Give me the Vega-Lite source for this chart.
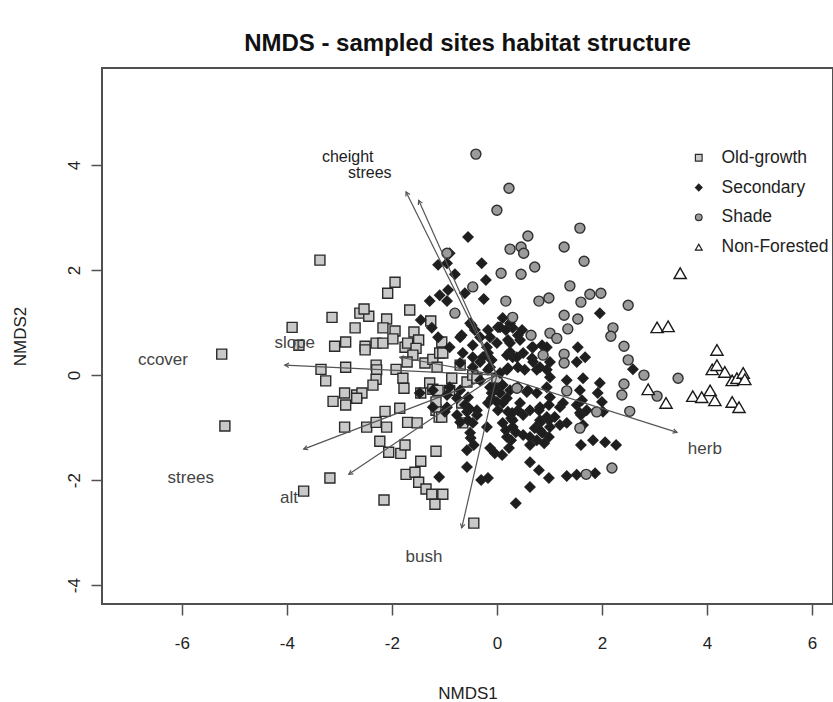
{
"$schema":"https://vega.github.io/schema/vega-lite/v6.json",
"width":731,"height":536,
"autosize":"none",
"padding":{"left":102,"top":68,"right":0,"bottom":98},
"background":"white",
"config":{"view":{"stroke":"#505050","strokeWidth":2},"font":"Liberation Sans",
 "legend":{"orient":"none","legendX":588,"legendY":81,"labelFontSize":17.5,"labelColor":"#222222","symbolSize":45,"symbolStrokeWidth":1.2,"rowPadding":10.8,"labelOffset":14,"padding":0,"titlePadding":0}},
"title":{"text":"NMDS - sampled sites habitat structure","fontSize":24,"fontWeight":"bold","font":"Liberation Sans","color":"#111111","anchor":"middle","offset":12},
"datasets":{
"sites":[
{"habitat":"Old-growth","NMDS1":-3.37,"NMDS2":2.19},{"habitat":"Old-growth","NMDS1":-1.94,"NMDS2":1.77},{"habitat":"Old-growth","NMDS1":-2.08,"NMDS2":1.56},{"habitat":"Old-growth","NMDS1":-1.66,"NMDS2":1.24},{"habitat":"Old-growth","NMDS1":-3.14,"NMDS2":1.10},{"habitat":"Old-growth","NMDS1":-2.61,"NMDS2":1.18},{"habitat":"Old-growth","NMDS1":-2.44,"NMDS2":1.12},{"habitat":"Old-growth","NMDS1":-2.53,"NMDS2":1.26},{"habitat":"Old-growth","NMDS1":-3.90,"NMDS2":0.91},{"habitat":"Old-growth","NMDS1":-2.70,"NMDS2":0.90},{"habitat":"Old-growth","NMDS1":-2.10,"NMDS2":1.07},{"habitat":"Old-growth","NMDS1":-2.17,"NMDS2":0.90},{"habitat":"Old-growth","NMDS1":-1.94,"NMDS2":0.84},{"habitat":"Old-growth","NMDS1":-1.58,"NMDS2":0.82},{"habitat":"Old-growth","NMDS1":-1.26,"NMDS2":1.03},{"habitat":"Old-growth","NMDS1":-3.09,"NMDS2":0.55},{"habitat":"Old-growth","NMDS1":-2.88,"NMDS2":0.63},{"habitat":"Old-growth","NMDS1":-2.51,"NMDS2":0.55},{"habitat":"Old-growth","NMDS1":-2.51,"NMDS2":0.48},{"habitat":"Old-growth","NMDS1":-2.30,"NMDS2":0.61},{"habitat":"Old-growth","NMDS1":-2.17,"NMDS2":0.61},{"habitat":"Old-growth","NMDS1":-1.98,"NMDS2":0.69},{"habitat":"Old-growth","NMDS1":-1.75,"NMDS2":0.53},{"habitat":"Old-growth","NMDS1":-1.70,"NMDS2":0.61},{"habitat":"Old-growth","NMDS1":-1.49,"NMDS2":0.67},{"habitat":"Old-growth","NMDS1":-1.54,"NMDS2":0.51},{"habitat":"Old-growth","NMDS1":-1.60,"NMDS2":0.38},{"habitat":"Old-growth","NMDS1":-1.71,"NMDS2":0.25},{"habitat":"Old-growth","NMDS1":-1.37,"NMDS2":0.23},{"habitat":"Old-growth","NMDS1":-1.22,"NMDS2":0.30},{"habitat":"Old-growth","NMDS1":-1.09,"NMDS2":0.42},{"habitat":"Old-growth","NMDS1":-1.14,"NMDS2":0.15},{"habitat":"Old-growth","NMDS1":-5.24,"NMDS2":0.40},{"habitat":"Old-growth","NMDS1":-3.77,"NMDS2":0.57},{"habitat":"Old-growth","NMDS1":-3.35,"NMDS2":0.11},{"habitat":"Old-growth","NMDS1":-2.88,"NMDS2":0.15},{"habitat":"Old-growth","NMDS1":-2.30,"NMDS2":0.19},{"habitat":"Old-growth","NMDS1":-2.29,"NMDS2":0.10},{"habitat":"Old-growth","NMDS1":-1.92,"NMDS2":0.11},{"habitat":"Old-growth","NMDS1":-3.26,"NMDS2":-0.11},{"habitat":"Old-growth","NMDS1":-2.30,"NMDS2":-0.08},{"habitat":"Old-growth","NMDS1":-2.36,"NMDS2":-0.19},{"habitat":"Old-growth","NMDS1":-1.79,"NMDS2":-0.06},{"habitat":"Old-growth","NMDS1":-1.77,"NMDS2":-0.25},{"habitat":"Old-growth","NMDS1":-1.28,"NMDS2":-0.15},{"habitat":"Old-growth","NMDS1":-1.22,"NMDS2":-0.27},{"habitat":"Old-growth","NMDS1":-1.12,"NMDS2":-0.29},{"habitat":"Old-growth","NMDS1":-1.45,"NMDS2":-0.34},{"habitat":"Old-growth","NMDS1":-2.90,"NMDS2":-0.34},{"habitat":"Old-growth","NMDS1":-2.67,"NMDS2":-0.38},{"habitat":"Old-growth","NMDS1":-2.57,"NMDS2":-0.34},{"habitat":"Old-growth","NMDS1":-3.12,"NMDS2":-0.50},{"habitat":"Old-growth","NMDS1":-2.88,"NMDS2":-0.57},{"habitat":"Old-growth","NMDS1":-2.67,"NMDS2":-0.44},{"habitat":"Old-growth","NMDS1":-2.13,"NMDS2":-0.69},{"habitat":"Old-growth","NMDS1":-1.85,"NMDS2":-0.63},{"habitat":"Old-growth","NMDS1":-1.16,"NMDS2":-0.67},{"habitat":"Old-growth","NMDS1":-1.10,"NMDS2":-0.80},{"habitat":"Old-growth","NMDS1":-1.70,"NMDS2":-0.90},{"habitat":"Old-growth","NMDS1":-1.52,"NMDS2":-0.91},{"habitat":"Old-growth","NMDS1":-2.90,"NMDS2":-0.99},{"habitat":"Old-growth","NMDS1":-2.48,"NMDS2":-0.99},{"habitat":"Old-growth","NMDS1":-2.30,"NMDS2":-0.90},{"habitat":"Old-growth","NMDS1":-2.10,"NMDS2":-0.99},{"habitat":"Old-growth","NMDS1":-0.65,"NMDS2":-0.91},{"habitat":"Old-growth","NMDS1":-5.18,"NMDS2":-0.97},{"habitat":"Old-growth","NMDS1":-0.70,"NMDS2":0.19},{"habitat":"Old-growth","NMDS1":-0.57,"NMDS2":-0.13},{"habitat":"Old-growth","NMDS1":-2.23,"NMDS2":-1.26},{"habitat":"Old-growth","NMDS1":-2.06,"NMDS2":-1.47},{"habitat":"Old-growth","NMDS1":-1.83,"NMDS2":-1.49},{"habitat":"Old-growth","NMDS1":-1.75,"NMDS2":-1.33},{"habitat":"Old-growth","NMDS1":-1.16,"NMDS2":-1.45},{"habitat":"Old-growth","NMDS1":-1.45,"NMDS2":-1.64},{"habitat":"Old-growth","NMDS1":-1.73,"NMDS2":-1.89},{"habitat":"Old-growth","NMDS1":-1.56,"NMDS2":-1.85},{"habitat":"Old-growth","NMDS1":-1.49,"NMDS2":-2.04},{"habitat":"Old-growth","NMDS1":-1.35,"NMDS2":-2.17},{"habitat":"Old-growth","NMDS1":-1.24,"NMDS2":-2.27},{"habitat":"Old-growth","NMDS1":-1.03,"NMDS2":-2.27},{"habitat":"Old-growth","NMDS1":-1.18,"NMDS2":-2.46},{"habitat":"Old-growth","NMDS1":-3.18,"NMDS2":-1.96},{"habitat":"Old-growth","NMDS1":-3.68,"NMDS2":-2.21},{"habitat":"Old-growth","NMDS1":-2.15,"NMDS2":-2.38},{"habitat":"Old-growth","NMDS1":-0.44,"NMDS2":-2.82},{"habitat":"Old-growth","NMDS1":-1.05,"NMDS2":0.63},{"habitat":"Old-growth","NMDS1":-1.03,"NMDS2":0.42},{"habitat":"Old-growth","NMDS1":-0.46,"NMDS2":0.00},{"habitat":"Old-growth","NMDS1":-0.38,"NMDS2":-0.06},{"habitat":"Old-growth","NMDS1":0.00,"NMDS2":-0.06},{"habitat":"Old-growth","NMDS1":-0.86,"NMDS2":-0.06},{"habitat":"Old-growth","NMDS1":-0.90,"NMDS2":-0.29},{"habitat":"Old-growth","NMDS1":-0.67,"NMDS2":-0.53},{"habitat":"Old-growth","NMDS1":-1.05,"NMDS2":-0.80},{"habitat":"Old-growth","NMDS1":-1.16,"NMDS2":-0.51},
{"habitat":"Secondary","NMDS1":-1.12,"NMDS2":2.10},{"habitat":"Secondary","NMDS1":-0.95,"NMDS2":2.13},{"habitat":"Secondary","NMDS1":-0.29,"NMDS2":2.13},{"habitat":"Secondary","NMDS1":-0.21,"NMDS2":1.81},{"habitat":"Secondary","NMDS1":-0.25,"NMDS2":1.45},{"habitat":"Secondary","NMDS1":-1.28,"NMDS2":1.41},{"habitat":"Secondary","NMDS1":-1.09,"NMDS2":1.52},{"habitat":"Secondary","NMDS1":-0.93,"NMDS2":1.62},{"habitat":"Secondary","NMDS1":-0.61,"NMDS2":1.56},{"habitat":"Secondary","NMDS1":-0.95,"NMDS2":1.41},{"habitat":"Secondary","NMDS1":-1.45,"NMDS2":1.05},{"habitat":"Secondary","NMDS1":-1.24,"NMDS2":0.90},{"habitat":"Secondary","NMDS1":-1.12,"NMDS2":0.72},{"habitat":"Secondary","NMDS1":-0.90,"NMDS2":0.53},{"habitat":"Secondary","NMDS1":-0.70,"NMDS2":0.72},{"habitat":"Secondary","NMDS1":-0.51,"NMDS2":0.99},{"habitat":"Secondary","NMDS1":-0.42,"NMDS2":0.86},{"habitat":"Secondary","NMDS1":-0.17,"NMDS2":0.86},{"habitat":"Secondary","NMDS1":-0.32,"NMDS2":0.72},{"habitat":"Secondary","NMDS1":-0.65,"NMDS2":0.42},{"habitat":"Secondary","NMDS1":-0.46,"NMDS2":0.34},{"habitat":"Secondary","NMDS1":-0.32,"NMDS2":0.25},{"habitat":"Secondary","NMDS1":-0.17,"NMDS2":0.42},{"habitat":"Secondary","NMDS1":-1.22,"NMDS2":-0.29},{"habitat":"Secondary","NMDS1":-0.90,"NMDS2":-0.23},{"habitat":"Secondary","NMDS1":-0.70,"NMDS2":-0.29},{"habitat":"Secondary","NMDS1":-0.76,"NMDS2":-0.44},{"habitat":"Secondary","NMDS1":-1.22,"NMDS2":-0.61},{"habitat":"Secondary","NMDS1":-0.95,"NMDS2":-0.61},{"habitat":"Secondary","NMDS1":-0.61,"NMDS2":-0.57},{"habitat":"Secondary","NMDS1":-0.57,"NMDS2":-0.70},{"habitat":"Secondary","NMDS1":-0.38,"NMDS2":-0.76},{"habitat":"Secondary","NMDS1":-0.76,"NMDS2":-0.76},{"habitat":"Secondary","NMDS1":-0.46,"NMDS2":-0.91},{"habitat":"Secondary","NMDS1":-0.10,"NMDS2":-0.34},{"habitat":"Secondary","NMDS1":-0.17,"NMDS2":-0.53},{"habitat":"Secondary","NMDS1":-1.47,"NMDS2":-0.34},{"habitat":"Secondary","NMDS1":-0.04,"NMDS2":-0.23},
{"habitat":"Secondary","NMDS1":-0.90,"NMDS2":2.32},{"habitat":"Secondary","NMDS1":1.96,"NMDS2":1.18},{"habitat":"Secondary","NMDS1":0.11,"NMDS2":1.09},{"habitat":"Secondary","NMDS1":0.02,"NMDS2":0.91},{"habitat":"Secondary","NMDS1":0.17,"NMDS2":0.86},{"habitat":"Secondary","NMDS1":0.30,"NMDS2":0.90},{"habitat":"Secondary","NMDS1":0.48,"NMDS2":0.86},{"habitat":"Secondary","NMDS1":-0.13,"NMDS2":0.72},{"habitat":"Secondary","NMDS1":0.00,"NMDS2":0.61},{"habitat":"Secondary","NMDS1":0.21,"NMDS2":0.67},{"habitat":"Secondary","NMDS1":0.44,"NMDS2":0.67},{"habitat":"Secondary","NMDS1":0.67,"NMDS2":0.53},{"habitat":"Secondary","NMDS1":0.86,"NMDS2":0.57},{"habitat":"Secondary","NMDS1":0.95,"NMDS2":0.53},{"habitat":"Secondary","NMDS1":-0.27,"NMDS2":0.34},{"habitat":"Secondary","NMDS1":0.25,"NMDS2":0.44},{"habitat":"Secondary","NMDS1":0.30,"NMDS2":0.34},{"habitat":"Secondary","NMDS1":0.50,"NMDS2":0.42},{"habitat":"Secondary","NMDS1":0.67,"NMDS2":0.32},{"habitat":"Secondary","NMDS1":1.54,"NMDS2":0.53},{"habitat":"Secondary","NMDS1":1.68,"NMDS2":0.34},{"habitat":"Secondary","NMDS1":1.52,"NMDS2":0.25},{"habitat":"Secondary","NMDS1":1.01,"NMDS2":0.25},{"habitat":"Secondary","NMDS1":-0.13,"NMDS2":0.15},{"habitat":"Secondary","NMDS1":0.06,"NMDS2":0.04},{"habitat":"Secondary","NMDS1":0.21,"NMDS2":0.13},{"habitat":"Secondary","NMDS1":0.40,"NMDS2":0.15},{"habitat":"Secondary","NMDS1":0.53,"NMDS2":0.10},{"habitat":"Secondary","NMDS1":0.76,"NMDS2":0.10},{"habitat":"Secondary","NMDS1":0.95,"NMDS2":0.10},{"habitat":"Secondary","NMDS1":1.01,"NMDS2":-0.04},{"habitat":"Secondary","NMDS1":1.33,"NMDS2":-0.10},{"habitat":"Secondary","NMDS1":1.64,"NMDS2":-0.06},{"habitat":"Secondary","NMDS1":1.96,"NMDS2":-0.15},{"habitat":"Secondary","NMDS1":2.59,"NMDS2":0.11},{"habitat":"Secondary","NMDS1":-0.13,"NMDS2":-0.23},{"habitat":"Secondary","NMDS1":0.06,"NMDS2":-0.34},{"habitat":"Secondary","NMDS1":0.25,"NMDS2":-0.29},{"habitat":"Secondary","NMDS1":0.40,"NMDS2":-0.23},{"habitat":"Secondary","NMDS1":0.57,"NMDS2":-0.32},{"habitat":"Secondary","NMDS1":0.76,"NMDS2":-0.34},{"habitat":"Secondary","NMDS1":0.95,"NMDS2":-0.23},{"habitat":"Secondary","NMDS1":1.01,"NMDS2":-0.42},{"habitat":"Secondary","NMDS1":1.58,"NMDS2":-0.29},{"habitat":"Secondary","NMDS1":1.62,"NMDS2":-0.48},{"habitat":"Secondary","NMDS1":1.92,"NMDS2":-0.34},{"habitat":"Secondary","NMDS1":2.00,"NMDS2":-0.51},{"habitat":"Secondary","NMDS1":0.11,"NMDS2":-0.53},{"habitat":"Secondary","NMDS1":0.21,"NMDS2":-0.70},{"habitat":"Secondary","NMDS1":0.44,"NMDS2":-0.53},{"habitat":"Secondary","NMDS1":0.63,"NMDS2":-0.67},{"habitat":"Secondary","NMDS1":0.82,"NMDS2":-0.61},{"habitat":"Secondary","NMDS1":0.95,"NMDS2":-0.80},{"habitat":"Secondary","NMDS1":1.20,"NMDS2":-0.61},{"habitat":"Secondary","NMDS1":1.58,"NMDS2":-0.72},{"habitat":"Secondary","NMDS1":1.71,"NMDS2":-0.67},{"habitat":"Secondary","NMDS1":2.02,"NMDS2":-0.70},{"habitat":"Secondary","NMDS1":0.11,"NMDS2":-0.91},{"habitat":"Secondary","NMDS1":0.30,"NMDS2":-0.86},{"habitat":"Secondary","NMDS1":0.82,"NMDS2":-0.91},{"habitat":"Secondary","NMDS1":1.01,"NMDS2":-0.99},{"habitat":"Secondary","NMDS1":1.33,"NMDS2":-0.91},{"habitat":"Secondary","NMDS1":1.64,"NMDS2":-0.95},
{"habitat":"Secondary","NMDS1":-0.53,"NMDS2":-0.63},{"habitat":"Secondary","NMDS1":-0.70,"NMDS2":-0.90},{"habitat":"Secondary","NMDS1":0.00,"NMDS2":-0.51},{"habitat":"Secondary","NMDS1":0.27,"NMDS2":-0.82},{"habitat":"Secondary","NMDS1":0.40,"NMDS2":-0.67},{"habitat":"Secondary","NMDS1":0.50,"NMDS2":-0.76},{"habitat":"Secondary","NMDS1":0.80,"NMDS2":-0.67},{"habitat":"Secondary","NMDS1":0.99,"NMDS2":-0.57},{"habitat":"Secondary","NMDS1":0.99,"NMDS2":-0.86},{"habitat":"Secondary","NMDS1":1.26,"NMDS2":-0.53},{"habitat":"Secondary","NMDS1":1.20,"NMDS2":-0.95},{"habitat":"Secondary","NMDS1":1.52,"NMDS2":-0.57},{"habitat":"Secondary","NMDS1":1.60,"NMDS2":-0.76},{"habitat":"Secondary","NMDS1":0.17,"NMDS2":-1.05},{"habitat":"Secondary","NMDS1":0.36,"NMDS2":-1.09},{"habitat":"Secondary","NMDS1":0.72,"NMDS2":-1.01},{"habitat":"Secondary","NMDS1":0.63,"NMDS2":-1.18},{"habitat":"Secondary","NMDS1":0.86,"NMDS2":-1.10},{"habitat":"Secondary","NMDS1":0.99,"NMDS2":-1.18},{"habitat":"Secondary","NMDS1":-0.50,"NMDS2":-1.20},{"habitat":"Secondary","NMDS1":-0.44,"NMDS2":-1.33},{"habitat":"Secondary","NMDS1":-0.57,"NMDS2":-1.43},{"habitat":"Secondary","NMDS1":-0.13,"NMDS2":-1.39},{"habitat":"Secondary","NMDS1":-0.04,"NMDS2":-1.49},{"habitat":"Secondary","NMDS1":0.10,"NMDS2":-1.52},{"habitat":"Secondary","NMDS1":0.23,"NMDS2":-1.39},{"habitat":"Secondary","NMDS1":0.27,"NMDS2":-1.24},{"habitat":"Secondary","NMDS1":0.63,"NMDS2":-1.33},{"habitat":"Secondary","NMDS1":0.76,"NMDS2":-1.24},{"habitat":"Secondary","NMDS1":0.90,"NMDS2":-1.30},{"habitat":"Secondary","NMDS1":1.60,"NMDS2":-1.33},{"habitat":"Secondary","NMDS1":1.83,"NMDS2":-1.24},{"habitat":"Secondary","NMDS1":2.06,"NMDS2":-1.28},{"habitat":"Secondary","NMDS1":2.27,"NMDS2":-1.33},{"habitat":"Secondary","NMDS1":-0.57,"NMDS2":-1.75},{"habitat":"Secondary","NMDS1":-0.30,"NMDS2":-2.00},{"habitat":"Secondary","NMDS1":-0.17,"NMDS2":-1.96},{"habitat":"Secondary","NMDS1":0.63,"NMDS2":-1.66},{"habitat":"Secondary","NMDS1":0.80,"NMDS2":-1.81},{"habitat":"Secondary","NMDS1":0.99,"NMDS2":-1.96},{"habitat":"Secondary","NMDS1":0.63,"NMDS2":-2.13},{"habitat":"Secondary","NMDS1":1.33,"NMDS2":-1.92},{"habitat":"Secondary","NMDS1":1.52,"NMDS2":-1.90},{"habitat":"Secondary","NMDS1":1.87,"NMDS2":-1.87},{"habitat":"Secondary","NMDS1":0.36,"NMDS2":-2.44},{"habitat":"Secondary","NMDS1":-1.10,"NMDS2":-1.94},
{"habitat":"Secondary","NMDS1":-0.48,"NMDS2":0.95},{"habitat":"Secondary","NMDS1":-0.67,"NMDS2":0.76},{"habitat":"Secondary","NMDS1":0.06,"NMDS2":0.91},{"habitat":"Secondary","NMDS1":0.25,"NMDS2":0.99},{"habitat":"Secondary","NMDS1":0.40,"NMDS2":0.76},{"habitat":"Secondary","NMDS1":-0.46,"NMDS2":0.57},{"habitat":"Secondary","NMDS1":-0.19,"NMDS2":0.53},{"habitat":"Secondary","NMDS1":0.25,"NMDS2":0.61},{"habitat":"Secondary","NMDS1":0.69,"NMDS2":0.53},{"habitat":"Secondary","NMDS1":-0.10,"NMDS2":0.29},{"habitat":"Secondary","NMDS1":0.19,"NMDS2":0.38},{"habitat":"Secondary","NMDS1":0.38,"NMDS2":0.34},{"habitat":"Secondary","NMDS1":0.69,"NMDS2":0.25},{"habitat":"Secondary","NMDS1":-0.70,"NMDS2":0.23},{"habitat":"Secondary","NMDS1":-0.46,"NMDS2":0.15},{"habitat":"Secondary","NMDS1":-0.17,"NMDS2":0.10},{"habitat":"Secondary","NMDS1":0.19,"NMDS2":0.10},{"habitat":"Secondary","NMDS1":0.82,"NMDS2":0.15},{"habitat":"Secondary","NMDS1":-0.32,"NMDS2":-0.10},{"habitat":"Secondary","NMDS1":0.11,"NMDS2":-0.19},{"habitat":"Secondary","NMDS1":0.59,"NMDS2":-0.29},{"habitat":"Secondary","NMDS1":-0.95,"NMDS2":-0.38},{"habitat":"Secondary","NMDS1":-0.55,"NMDS2":-0.42},{"habitat":"Secondary","NMDS1":-0.10,"NMDS2":-0.44},{"habitat":"Secondary","NMDS1":0.19,"NMDS2":-0.44},{"habitat":"Secondary","NMDS1":-0.99,"NMDS2":-0.70},{"habitat":"Secondary","NMDS1":-0.38,"NMDS2":-0.67},{"habitat":"Secondary","NMDS1":0.02,"NMDS2":-0.67},{"habitat":"Secondary","NMDS1":0.29,"NMDS2":-0.72},{"habitat":"Secondary","NMDS1":0.82,"NMDS2":-0.86},{"habitat":"Secondary","NMDS1":1.10,"NMDS2":-0.80},{"habitat":"Secondary","NMDS1":-0.55,"NMDS2":-0.86},{"habitat":"Secondary","NMDS1":-0.19,"NMDS2":-0.99},{"habitat":"Secondary","NMDS1":0.30,"NMDS2":-0.99},{"habitat":"Secondary","NMDS1":0.82,"NMDS2":-1.05},{"habitat":"Secondary","NMDS1":-0.51,"NMDS2":-1.10},{"habitat":"Secondary","NMDS1":0.50,"NMDS2":-1.14},{"habitat":"Secondary","NMDS1":0.19,"NMDS2":-1.18},{"habitat":"Secondary","NMDS1":-0.55,"NMDS2":2.63},{"habitat":"Secondary","NMDS1":-0.80,"NMDS2":1.92},
{"habitat":"Shade","NMDS1":-0.40,"NMDS2":4.21},{"habitat":"Shade","NMDS1":0.23,"NMDS2":3.56},{"habitat":"Shade","NMDS1":0.00,"NMDS2":3.14},{"habitat":"Shade","NMDS1":0.59,"NMDS2":2.65},{"habitat":"Shade","NMDS1":1.58,"NMDS2":2.80},{"habitat":"Shade","NMDS1":0.25,"NMDS2":2.40},{"habitat":"Shade","NMDS1":0.46,"NMDS2":2.44},{"habitat":"Shade","NMDS1":0.51,"NMDS2":2.32},{"habitat":"Shade","NMDS1":1.28,"NMDS2":2.44},{"habitat":"Shade","NMDS1":1.66,"NMDS2":2.17},{"habitat":"Shade","NMDS1":0.08,"NMDS2":1.94},{"habitat":"Shade","NMDS1":0.46,"NMDS2":1.92},{"habitat":"Shade","NMDS1":0.72,"NMDS2":2.06},{"habitat":"Shade","NMDS1":-0.46,"NMDS2":1.68},{"habitat":"Shade","NMDS1":1.39,"NMDS2":1.70},{"habitat":"Shade","NMDS1":1.77,"NMDS2":1.54},{"habitat":"Shade","NMDS1":1.98,"NMDS2":1.56},{"habitat":"Shade","NMDS1":1.60,"NMDS2":1.39},{"habitat":"Shade","NMDS1":0.80,"NMDS2":1.41},{"habitat":"Shade","NMDS1":0.99,"NMDS2":1.47},{"habitat":"Shade","NMDS1":0.17,"NMDS2":1.41},{"habitat":"Shade","NMDS1":-0.80,"NMDS2":1.18},{"habitat":"Shade","NMDS1":2.50,"NMDS2":1.33},{"habitat":"Shade","NMDS1":0.30,"NMDS2":1.10},{"habitat":"Shade","NMDS1":1.28,"NMDS2":1.14},{"habitat":"Shade","NMDS1":1.54,"NMDS2":1.07},{"habitat":"Shade","NMDS1":1.35,"NMDS2":0.88},{"habitat":"Shade","NMDS1":2.21,"NMDS2":0.90},{"habitat":"Shade","NMDS1":2.17,"NMDS2":0.74},{"habitat":"Shade","NMDS1":0.65,"NMDS2":0.76},{"habitat":"Shade","NMDS1":1.01,"NMDS2":0.80},{"habitat":"Shade","NMDS1":1.14,"NMDS2":0.70},{"habitat":"Shade","NMDS1":2.42,"NMDS2":0.55},{"habitat":"Shade","NMDS1":0.88,"NMDS2":0.38},{"habitat":"Shade","NMDS1":1.28,"NMDS2":0.40},{"habitat":"Shade","NMDS1":1.28,"NMDS2":0.23},{"habitat":"Shade","NMDS1":2.50,"NMDS2":0.29},{"habitat":"Shade","NMDS1":2.80,"NMDS2":0.00},{"habitat":"Shade","NMDS1":3.45,"NMDS2":-0.06},{"habitat":"Shade","NMDS1":2.42,"NMDS2":-0.17},{"habitat":"Shade","NMDS1":2.38,"NMDS2":-0.38},{"habitat":"Shade","NMDS1":3.05,"NMDS2":-0.40},{"habitat":"Shade","NMDS1":1.33,"NMDS2":-0.30},{"habitat":"Shade","NMDS1":1.90,"NMDS2":-0.70},{"habitat":"Shade","NMDS1":2.53,"NMDS2":-0.69},{"habitat":"Shade","NMDS1":0.38,"NMDS2":-0.25},{"habitat":"Shade","NMDS1":1.58,"NMDS2":-1.01},{"habitat":"Shade","NMDS1":-0.95,"NMDS2":2.32},{"habitat":"Shade","NMDS1":1.70,"NMDS2":-1.89},{"habitat":"Shade","NMDS1":2.19,"NMDS2":-1.77},
{"habitat":"Non-Forested","NMDS1":3.49,"NMDS2":1.94},{"habitat":"Non-Forested","NMDS1":3.05,"NMDS2":0.91},{"habitat":"Non-Forested","NMDS1":3.26,"NMDS2":0.93},{"habitat":"Non-Forested","NMDS1":4.19,"NMDS2":0.48},{"habitat":"Non-Forested","NMDS1":4.10,"NMDS2":0.11},{"habitat":"Non-Forested","NMDS1":4.19,"NMDS2":0.19},{"habitat":"Non-Forested","NMDS1":4.34,"NMDS2":0.06},{"habitat":"Non-Forested","NMDS1":4.48,"NMDS2":-0.10},{"habitat":"Non-Forested","NMDS1":4.57,"NMDS2":-0.06},{"habitat":"Non-Forested","NMDS1":4.69,"NMDS2":0.04},{"habitat":"Non-Forested","NMDS1":4.72,"NMDS2":-0.08},{"habitat":"Non-Forested","NMDS1":2.88,"NMDS2":-0.27},{"habitat":"Non-Forested","NMDS1":3.22,"NMDS2":-0.53},{"habitat":"Non-Forested","NMDS1":3.73,"NMDS2":-0.40},{"habitat":"Non-Forested","NMDS1":3.90,"NMDS2":-0.42},{"habitat":"Non-Forested","NMDS1":4.06,"NMDS2":-0.29},{"habitat":"Non-Forested","NMDS1":4.15,"NMDS2":-0.48},{"habitat":"Non-Forested","NMDS1":4.48,"NMDS2":-0.51},{"habitat":"Non-Forested","NMDS1":4.61,"NMDS2":-0.61}
],
"vectors":[
{"variable":"cheight","NMDS1":-1.73,"NMDS2":3.49,"labelX":-2.84,"labelY":4.16},
{"variable":"strees","NMDS1":-1.49,"NMDS2":3.33,"labelX":-2.42,"labelY":3.85},
{"variable":"ccover","NMDS1":-4.04,"NMDS2":0.19,"labelX":-6.36,"labelY":0.29},
{"variable":"slope","NMDS1":-1.85,"NMDS2":0.34,"labelX":-3.85,"labelY":0.61},
{"variable":"strees","NMDS1":-3.68,"NMDS2":-1.41,"labelX":-5.83,"labelY":-1.96},
{"variable":"alt","NMDS1":-2.82,"NMDS2":-1.89,"labelX":-3.96,"labelY":-2.34},
{"variable":"bush","NMDS1":-0.67,"NMDS2":-2.91,"labelX":-1.39,"labelY":-3.47},
{"variable":"herb","NMDS1":3.43,"NMDS2":-1.09,"labelX":3.96,"labelY":-1.41}
]
},
"layer":[
{"data":{"name":"sites"},
 "transform":[{"filter":"datum.habitat != 'Non-Forested'"}],
 "mark":{"type":"point","filled":true,"strokeWidth":1.4,"opacity":1,"size":100},
 "encoding":{
  "x":{"field":"NMDS1","type":"quantitative","title":"NMDS1","scale":{"domain":[-7.52,6.4],"nice":false,"zero":false},
       "axis":{"values":[-6,-4,-2,0,2,4,6],"labelExpr":"datum.value < 0 ? '-' + abs(datum.value) : '' + datum.value","grid":false,"domain":false,"tickSize":11,"tickColor":"#505050","tickWidth":1.5,"labelFontSize":17,"labelColor":"#222222","labelPadding":20,"labelFlush":false,"titleFontSize":17,"titleFontWeight":"normal","titleColor":"#222222","titlePadding":34}},
  "y":{"field":"NMDS2","type":"quantitative","title":"NMDS2","scale":{"domain":[-4.36,5.85],"nice":false,"zero":false},
       "axis":{"values":[-4,-2,0,2,4],"labelExpr":"datum.value < 0 ? '-' + abs(datum.value) : '' + datum.value","grid":false,"domain":false,"tickSize":11,"tickColor":"#505050","tickWidth":1.5,"labelAngle":270,"labelFontSize":17,"labelColor":"#222222","labelPadding":8,"labelFlush":false,"titleFontSize":17,"titleFontWeight":"normal","titleColor":"#222222","titlePadding":36}},
  "shape":{"field":"habitat","type":"nominal","title":null,"scale":{"domain":["Old-growth","Secondary","Shade","Non-Forested"],"range":["square","diamond","circle","triangle-up"]}},
  "fill":{"field":"habitat","type":"nominal","title":null,"scale":{"domain":["Old-growth","Secondary","Shade","Non-Forested"],"range":["#c9c9c9","#1e1e1e","#9b9b9b","#ffffff"]}},
  "stroke":{"field":"habitat","type":"nominal","title":null,"scale":{"domain":["Old-growth","Secondary","Shade","Non-Forested"],"range":["#2a2a2a","#222222","#2f2f2f","#1a1a1a"]}}
 }},
{"data":{"name":"sites"},
 "transform":[{"filter":"datum.habitat == 'Non-Forested'"}],
 "mark":{"type":"point","filled":true,"strokeWidth":1.4,"opacity":1,"size":150},
 "encoding":{
  "x":{"field":"NMDS1","type":"quantitative"},
  "y":{"field":"NMDS2","type":"quantitative"},
  "shape":{"field":"habitat","type":"nominal","title":null},
  "fill":{"field":"habitat","type":"nominal","title":null},
  "stroke":{"field":"habitat","type":"nominal","title":null}
 }},
{"data":{"name":"vectors"},
 "mark":{"type":"rule","color":"#555555","strokeWidth":1.2},
 "encoding":{"x":{"field":"NMDS1","type":"quantitative"},"y":{"field":"NMDS2","type":"quantitative"},"x2":{"datum":0},"y2":{"datum":0}}},
{"data":{"name":"vectors"},
 "transform":[{"calculate":"90 - atan2(datum.NMDS2, datum.NMDS1) * 180 / PI","as":"heading"}],
 "mark":{"type":"point","shape":"M-0.7,1.3L0,0L0.7,1.3","filled":false,"stroke":"#555555","strokeWidth":1.2,"size":40,"opacity":1},
 "encoding":{"x":{"field":"NMDS1","type":"quantitative"},"y":{"field":"NMDS2","type":"quantitative"},"angle":{"field":"heading","type":"quantitative","scale":null}}},
{"data":{"name":"vectors"},
 "mark":{"type":"text","font":"Liberation Sans","color":"#444444","align":"center","baseline":"middle"},
 "encoding":{"x":{"field":"labelX","type":"quantitative"},"y":{"field":"labelY","type":"quantitative"},"text":{"field":"variable","type":"nominal"},
   "size":{"condition":{"test":"datum.labelY > 3","value":16},"value":17},
   "color":{"condition":{"test":"datum.labelY > 3","value":"#222222"},"value":"#444444"}}}
]
}
